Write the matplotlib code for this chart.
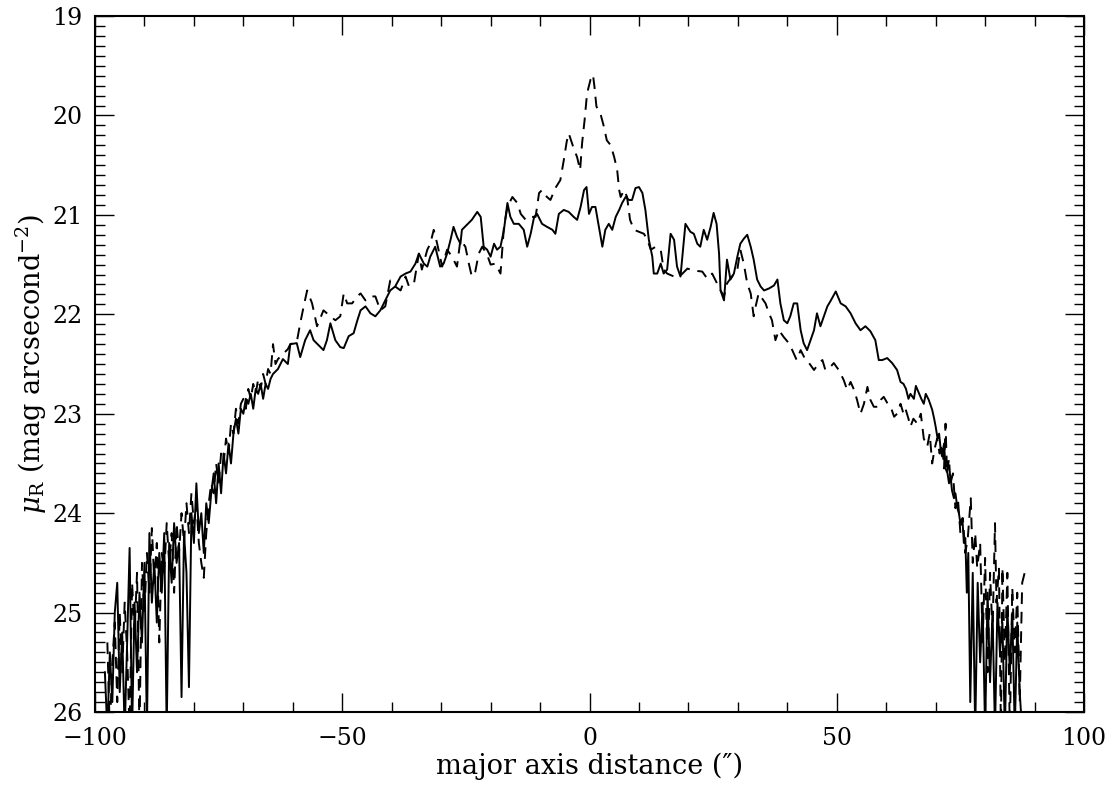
import matplotlib
matplotlib.use("Agg")
import matplotlib.pyplot as plt
from matplotlib.ticker import MultipleLocator

plt.rcParams['font.family'] = 'DejaVu Serif'
plt.rcParams['mathtext.fontset'] = 'dejavuserif'

# solid profile: noisy outer part on the left
solid_left_x = [-98.0, -97.5, -97.0, -96.5, -96.0, -95.5, -95.0, -94.5, -94.0, -93.5,
                -93.0, -92.5, -92.0, -91.5, -91.0, -90.5, -90.0, -89.5, -89.0, -88.5,
                -88.0, -87.5, -87.0, -86.5, -86.0, -85.5, -85.0, -84.5, -84.0, -83.5,
                -83.0, -82.5, -82.0, -81.5, -81.0, -80.5, -80.0, -79.5, -79.0, -78.5,
                -78.0, -77.5, -77.0, -76.5, -76.0, -75.5, -75.0, -74.5, -74.0, -73.5,
                -73.0, -72.5, -72.0, -71.5, -71.0, -70.5, -70.0, -69.5, -69.0, -68.5,
                -68.0, -67.5, -67.0, -66.5, -66.0, -65.5, -65.0, -64.5, -64.0, -63.0,
                -62.0, -61.0, -60.5]
solid_left_mu = [25.6, 26.2, 25.4, 25.9, 25.0, 24.7, 25.8, 25.2, 26.2, 25.3,
                 24.35, 26.2, 24.9, 25.6, 24.8, 25.3, 24.5, 26.2, 24.2, 24.9,
                 24.5, 25.1, 24.4, 24.8, 24.2, 26.2, 24.3, 24.7, 24.1, 24.5,
                 24.3, 25.85, 24.2, 24.6, 25.75, 24.0, 24.3, 23.7, 24.2, 24.0,
                 24.4, 23.9, 24.1, 23.8, 23.6, 23.9, 23.5, 23.8, 23.4, 23.6,
                 23.3, 23.5, 23.2, 23.05, 23.2, 22.95, 23.0, 22.85, 22.9, 22.8,
                 22.95, 22.75, 22.8, 22.7, 22.85, 22.7, 22.75, 22.65, 22.6, 22.55,
                 22.45, 22.5, 22.3]

# solid profile: inner part
solid_mid_x = [-59.2, -58.5, -57.5, -56.5, -55.8, -54.4, -53.8, -53.1, -52.4, -51.4,
               -50.4, -49.7, -48.7, -47.7, -47.0, -46.3, -45.3, -44.3, -43.3, -42.3,
               -41.3, -40.3, -39.3, -38.2, -37.2, -36.2, -35.2, -34.5, -33.5, -32.8,
               -32.2, -31.2, -30.2, -29.5, -28.8, -28.1, -27.5, -26.8, -26.1, -25.8,
               -24.8, -23.8, -22.7, -22.0, -21.4, -20.7, -20.0, -19.3, -18.7, -18.0,
               -17.3, -16.6, -16.0, -15.3, -14.3, -13.3, -12.6, -11.9, -11.2, -10.6,
               -9.6, -8.6, -7.5, -6.9, -6.2, -5.2, -4.2, -3.2, -2.5, -1.8,
               -1.1, -0.6, -0.1, 0.5, 1.2, 1.9, 2.6, 3.2, 3.9, 4.6,
               5.3, 6.0, 6.6, 7.3, 8.0, 8.6, 9.3, 10.0, 10.7, 11.3,
               12.0, 12.7, 13.0, 13.7, 14.4, 15.0, 15.7, 16.4, 17.1, 17.7,
               18.4, 19.4, 20.4, 21.1, 21.8, 22.4, 23.1, 23.8, 24.5, 25.1,
               25.7, 26.2, 26.5, 27.2, 27.8, 28.5, 29.2, 29.9, 30.5, 31.2,
               31.9, 32.6, 33.2, 33.9, 34.6, 35.3, 36.3, 37.3, 38.0, 38.6,
               39.3, 40.0, 40.6, 41.3, 42.0, 42.7, 43.3, 44.0, 44.7, 45.4,
               46.0, 46.7, 47.4, 48.1, 48.7, 49.8, 50.8, 51.8, 52.8, 53.8,
               54.8, 55.8, 56.8, 57.8, 58.5, 59.2, 60.2, 61.2, 62.2]
solid_mid_mu = [22.29, 22.43, 22.26, 22.16, 22.26, 22.33, 22.36, 22.26, 22.09, 22.26,
                22.33, 22.34, 22.22, 22.19, 22.07, 21.96, 21.92, 21.99, 22.02, 21.96,
                21.86, 21.76, 21.72, 21.62, 21.59, 21.57, 21.49, 21.39, 21.49, 21.52,
                21.42, 21.32, 21.52, 21.49, 21.39, 21.25, 21.12, 21.22, 21.29, 21.15,
                21.10, 21.05, 20.97, 21.02, 21.32, 21.35, 21.42, 21.29, 21.35, 21.32,
                21.15, 20.88, 21.02, 21.09, 21.09, 21.15, 21.32, 21.19, 21.02, 20.99,
                21.09, 21.12, 21.15, 21.19, 20.99, 20.95, 20.97, 21.02, 21.05, 20.92,
                20.75, 20.72, 20.99, 20.92, 20.92, 21.12, 21.32, 21.15, 21.09, 21.15,
                21.02, 20.95, 20.88, 20.82, 20.85, 20.85, 20.73, 20.72, 20.78, 20.95,
                21.25, 21.42, 21.59, 21.59, 21.49, 21.59, 21.55, 21.19, 21.25, 21.52,
                21.62, 21.09, 21.17, 21.19, 21.29, 21.32, 21.15, 21.25, 21.12, 20.98,
                21.09, 21.39, 21.76, 21.86, 21.45, 21.65, 21.59, 21.42, 21.29, 21.24,
                21.20, 21.32, 21.45, 21.65, 21.72, 21.76, 21.74, 21.71, 21.65, 21.89,
                22.06, 22.09, 22.02, 21.89, 21.89, 22.16, 22.29, 22.36, 22.26, 22.16,
                21.99, 22.12, 22.02, 21.92, 21.87, 21.77, 21.89, 21.92, 21.99, 22.09,
                22.16, 22.12, 22.17, 22.26, 22.46, 22.46, 22.44, 22.49, 22.56]

# solid profile: noisy outer part on the right
solid_right_x = [62.9, 63.5, 64.0, 64.5, 64.9, 65.6, 66.0, 66.6, 67.1, 67.6,
                 68.0, 68.6, 69.3, 69.7, 70.0, 70.4, 70.7, 71.0, 71.3, 71.7,
                 72.0, 72.4, 72.7, 73.0, 73.3, 73.7, 74.0, 74.4, 74.7, 75.0,
                 75.4, 75.7, 76.0, 76.3, 76.6, 77.0, 77.5, 78.0, 78.5, 79.0,
                 79.5, 80.0, 80.5, 81.0, 81.5, 82.0, 82.5, 83.0, 83.5, 84.0,
                 84.5, 85.0, 85.5, 86.0, 86.5, 87.0, 87.5]
solid_right_mu = [22.68, 22.7, 22.75, 22.85, 22.8, 22.85, 22.72, 22.79, 22.85, 22.9,
                  22.8, 22.86, 22.96, 23.05, 23.13, 23.25, 23.2, 23.35, 23.43, 23.3,
                  23.55, 23.6, 23.7, 23.62, 23.77, 23.85, 23.8, 23.95, 24.0, 24.1,
                  24.05, 24.3, 24.25, 24.8, 24.4, 25.9, 24.6, 26.2, 24.7, 25.5,
                  24.9, 26.2, 24.8, 25.7, 25.0, 26.2, 24.9, 25.4, 25.1, 26.2,
                  24.95, 25.6, 25.0, 26.2, 25.1, 25.8, 26.2]

# dashed profile
dash_left_x = [-97.5, -97.0, -96.5, -96.0, -95.5, -95.0, -94.5, -94.0, -93.5, -93.0,
               -92.5, -92.0, -91.5, -91.0, -90.5, -90.0, -89.5, -89.0, -88.5, -88.0,
               -87.5, -87.0, -86.5, -86.0, -85.5, -85.0, -84.5, -84.0, -83.5, -83.0,
               -82.5, -82.0, -81.5, -81.0, -80.5, -80.0, -79.5, -79.0, -78.5, -78.0,
               -77.5, -77.0, -76.5, -76.0, -75.5, -75.0, -74.5, -74.0, -73.5, -73.0,
               -72.5, -72.0, -71.5, -71.0, -70.5, -70.0, -69.5, -69.0, -68.5, -68.0,
               -67.5, -67.0, -66.5, -66.0, -65.5, -65.0, -64.5, -64.0,
               -63.5, -63.0, -62.0, -61.0, -60.5]
dash_left_mu = [25.3, 26.2, 25.5, 25.1, 25.9, 25.0, 25.6, 24.9, 25.4, 26.2,
                24.7, 25.2, 24.6, 26.2, 24.5, 25.0, 24.4, 24.8, 24.15, 24.7,
                24.3, 25.3, 24.4, 24.6, 24.1, 24.5, 24.2, 24.8, 24.1, 24.4,
                24.0, 24.3, 23.9, 24.2, 23.8, 24.1, 23.9, 24.3, 24.5, 24.65,
                24.2, 23.9, 23.7, 23.8, 23.5, 23.7, 23.4, 23.5, 23.25, 23.4,
                23.1, 23.2, 22.95, 23.1, 22.9, 22.85, 22.95, 22.75, 22.85, 22.7,
                22.8, 22.65, 22.75, 22.6, 22.7, 22.55, 22.6, 22.3,
                22.5, 22.45, 22.4, 22.35, 22.3]

dash_mid_x = [-59.2, -58.5, -57.8, -57.1, -56.1, -55.1, -53.8, -52.4, -51.4, -50.4,
              -49.7, -49.0, -48.0, -47.0, -46.3, -45.3, -44.3, -43.3, -42.3, -41.3,
              -40.3, -39.3, -38.2, -37.2, -36.5, -35.5, -34.5, -33.9, -32.8, -32.2,
              -31.5, -30.8, -29.8, -28.8, -27.8, -26.8, -26.1, -25.1, -24.4, -23.8,
              -23.1, -22.4, -21.7, -20.7, -20.0, -19.0, -18.0, -17.3, -16.6, -15.6,
              -14.6, -13.9, -12.9, -11.9, -10.9, -10.2, -9.6, -8.6, -7.9, -6.9,
              -5.9, -5.2, -4.6, -4.2, -3.2, -2.5, -1.9, -1.5, -1.0, -0.5,
              0.2, 0.7, 1.0, 1.4, 2.2, 2.9, 3.5, 4.3, 5.0, 5.6,
              6.0, 6.3, 7.0, 7.6, 8.2, 9.0, 10.0, 11.0, 11.7, 12.4,
              13.4, 14.4, 15.0, 15.7, 17.1, 18.4, 19.8, 21.1, 22.8, 23.8,
              24.8, 25.8, 26.5, 27.2, 27.8, 28.8, 29.9, 30.5, 31.2, 31.9,
              32.6, 33.2, 33.6, 34.2, 35.6, 36.3, 36.9, 37.6, 38.3, 39.3,
              40.3, 41.0, 41.9, 42.7, 43.7, 44.4, 45.4, 46.4, 47.1, 47.7,
              48.7, 49.4, 50.4, 51.4, 52.1, 52.8, 53.5, 54.1, 54.8, 55.5,
              56.2, 56.8, 57.5, 58.2, 58.9, 59.5, 60.2, 60.9, 61.6, 62.2]
dash_mid_mu = [22.28, 22.09, 21.92, 21.76, 21.89, 22.12, 21.96, 22.02, 22.06, 22.02,
               21.79, 21.89, 21.89, 21.82, 21.79, 21.86, 21.82, 21.82, 21.96, 21.92,
               21.66, 21.72, 21.76, 21.62, 21.72, 21.69, 21.39, 21.55, 21.35, 21.29,
               21.15, 21.29, 21.52, 21.35, 21.42, 21.52, 21.25, 21.32, 21.49, 21.62,
               21.57, 21.39, 21.32, 21.40, 21.50, 21.49, 21.59, 21.12, 20.92, 20.82,
               20.88, 20.99, 21.05, 21.02, 21.02, 20.78, 20.75, 20.82, 20.85, 20.73,
               20.65, 20.45, 20.26, 20.18, 20.33, 20.42, 20.55, 20.28, 20.05, 19.78,
               19.64, 19.59, 19.71, 19.91, 19.98, 20.11, 20.25, 20.30, 20.42, 20.55,
               20.75, 20.82, 20.75, 20.82, 21.05, 21.15, 21.17, 21.19, 21.25, 21.35,
               21.32, 21.35, 21.55, 21.59, 21.62, 21.61, 21.54, 21.56, 21.57, 21.64,
               21.59, 21.69, 21.76, 21.82, 21.69, 21.62, 21.55, 21.35, 21.49, 21.69,
               21.79, 22.02, 21.92, 21.79, 21.89, 21.99, 22.06, 22.26, 22.16, 22.23,
               22.29, 22.36, 22.46, 22.36, 22.46, 22.49, 22.56, 22.49, 22.46, 22.56,
               22.53, 22.49, 22.56, 22.66, 22.76, 22.68, 22.76, 22.86, 23.0, 22.9,
               22.73, 22.86, 22.93, 22.93, 22.86, 22.83, 22.89, 22.93, 23.03, 23.0]

dash_right_x = [62.9, 63.5, 63.9, 64.5, 64.9, 65.5, 66.3, 67.0, 67.6, 68.3,
                68.8, 69.3, 69.8, 70.3, 70.8, 71.3, 71.7, 72.0, 72.3, 72.7,
                73.0, 73.5, 74.0, 74.5, 75.0, 75.5, 76.0, 76.5, 77.1, 77.5,
                78.0, 78.4, 79.0, 79.5, 80.0, 80.5, 81.0, 81.5, 82.0, 82.3,
                82.8, 83.2, 83.5, 84.0, 84.5, 85.0, 85.5, 86.0, 86.5, 87.0,
                87.5, 88.0]
dash_right_mu = [22.9, 23.0, 22.95, 23.05, 23.13, 23.05, 23.1, 23.0, 23.25, 23.33,
                 23.2, 23.5, 23.35, 23.25, 23.4, 23.3, 23.55, 23.1, 23.6, 23.45,
                 23.7, 23.6, 23.95, 23.85, 24.2, 24.05, 24.4, 24.25, 23.85, 24.5,
                 24.2, 24.55, 24.3, 25.3, 24.45, 25.6, 24.6, 25.2, 24.1, 24.9,
                 24.55, 26.2, 24.55, 25.5, 24.6, 26.2, 24.75, 25.4, 24.8, 25.9,
                 24.7, 24.6]

x_solid = solid_left_x + solid_mid_x + solid_right_x
mu_solid = solid_left_mu + solid_mid_mu + solid_right_mu
x_dash = dash_left_x + dash_mid_x + dash_right_x
mu_dash = dash_left_mu + dash_mid_mu + dash_right_mu

fig = plt.figure(figsize=(11.15, 7.9), dpi=100)
ax = fig.add_axes([0.0852, 0.0987, 0.8870, 0.8810])

ax.plot(x_solid, mu_solid, color='black', lw=1.4)
ax.plot(x_dash, mu_dash, color='black', lw=1.4, linestyle=(0, (6, 4)))

ax.set_xlim(-100, 100)
ax.set_ylim(26, 19)

ax.xaxis.set_major_locator(MultipleLocator(50))
ax.xaxis.set_minor_locator(MultipleLocator(10))
ax.yaxis.set_major_locator(MultipleLocator(1))
ax.yaxis.set_minor_locator(MultipleLocator(0.1))
ax.tick_params(which='both', direction='in', top=True, right=True, width=1, labelsize=17)
ax.tick_params(which='major', length=14)
ax.tick_params(which='minor', length=7)
ax.tick_params(axis='x', pad=11)
ax.tick_params(axis='y', pad=9)
for s in ax.spines.values():
    s.set_linewidth(1.5)

ax.set_xlabel("major axis distance (\u2033)", fontsize=19.5, labelpad=2)
ax.set_ylabel(r"$\mu_{\rm R}$ (mag arcsecond$^{-2}$)", fontsize=19.5, labelpad=2)

fig.savefig("out.png", dpi=100)
